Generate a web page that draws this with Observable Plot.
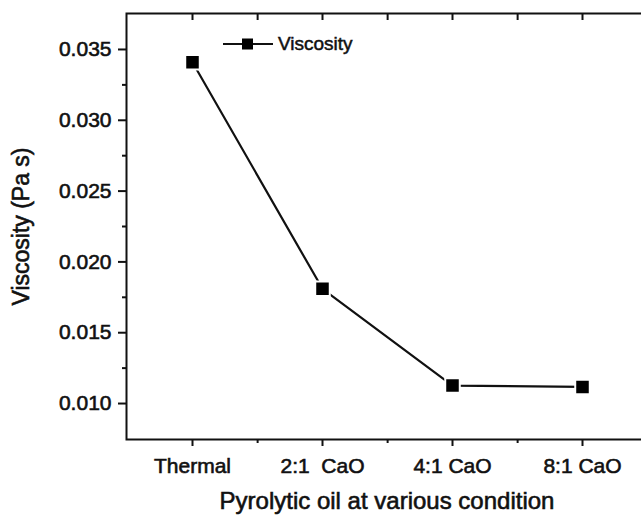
<!DOCTYPE html>
<html><head><meta charset="utf-8">
<script src="https://cdn.jsdelivr.net/npm/d3@7"></script>
<script src="https://cdn.jsdelivr.net/npm/@observablehq/plot@0.6"></script>
<style>
html,body{margin:0;padding:0;background:#fff;overflow:hidden;}
#wrap{position:relative;width:641px;height:515px;overflow:hidden;}
#wrap > svg{max-width:none !important;width:660px !important;height:515px !important;display:block;}
#wrap > svg text{stroke:#111;stroke-width:0.6px;}
#legend{position:absolute;left:222px;top:33px;display:flex;align-items:center;font:19px "Liberation Sans",Arial,sans-serif;color:#111;-webkit-text-stroke:0.5px #111;}
#legend svg{display:block;margin-right:4px;}
g[aria-label="y-axis label"] text{font-size:23px;}
g[aria-label="x-axis label"] text{font-size:24px;}
</style></head><body><div id="wrap"><div id="legend"></div></div>
<script>
const conditions = ["Thermal", "2:1\u00a0 CaO", "4:1 CaO", "8:1 CaO"];
const viscosity = [0.0341, 0.0181, 0.01127, 0.01117];
const yMajorTicks = [0.010, 0.015, 0.020, 0.025, 0.030, 0.035];
const yMinorTicks = [0.0125, 0.0175, 0.0225, 0.0275, 0.0325];
const seriesName = "Viscosity";
const xLabel = "Pyrolytic oil at various condition";
const yLabel = "Viscosity (Pa s)";

const data = conditions.map((c, i) => ({condition: c, value: viscosity[i]}));

const W = 660, ML = 126, MR = 13;
const step = (W - ML - MR) / conditions.length;
const blank = () => "";

const chart = Plot.plot({
  width: W,
  height: 515,
  marginLeft: ML,
  marginRight: MR,
  marginTop: 13,
  marginBottom: 76,
  style: {fontFamily: "'Liberation Sans', Arial, sans-serif", fontSize: "21px", color: "#111", background: "#fff", maxWidth: "none"},
  x: {type: "point", domain: conditions, padding: 0.5},
  y: {domain: [0.00746, 0.03754]},
  marks: [
    Plot.frame({stroke: "#111", strokeWidth: 2}),
    Plot.axisX({anchor: "bottom", ticks: conditions, tickSize: 7, tickPadding: 12, strokeWidth: 2,
      label: xLabel, labelAnchor: "center", labelOffset: 69, labelArrow: "none"}),
    Plot.axisX({anchor: "bottom", ticks: conditions.slice(0, 3), dx: step / 2, tickSize: 4, strokeWidth: 2, tickFormat: blank, label: null}),
    Plot.axisX({anchor: "top", ticks: conditions, tickSize: 6, dy: 6, strokeWidth: 2, tickFormat: blank, label: null}),
    Plot.axisX({anchor: "top", ticks: conditions.slice(0, 3), dx: step / 2, tickSize: 6, dy: 6, strokeWidth: 2, tickFormat: blank, label: null}),
    Plot.axisY({anchor: "left", ticks: yMajorTicks, tickSize: 8, tickPadding: 7, strokeWidth: 2,
      tickFormat: d3.format(".3f"), label: yLabel, labelAnchor: "center", labelOffset: 114, labelArrow: "none"}),
    Plot.axisY({anchor: "left", ticks: yMinorTicks, tickSize: 4, strokeWidth: 2, tickFormat: blank, label: null}),
    Plot.line(data, {x: "condition", y: "value", stroke: "#111", strokeWidth: 2.2}),
    Plot.dot(data, {x: "condition", y: "value", symbol: "square", r: 8.2, fill: "#000", stroke: "#fff", strokeWidth: 2})
  ]
});
document.getElementById("wrap").prepend(chart);

const legend = document.getElementById("legend");
legend.innerHTML = `<svg width="52" height="14"><line x1="1" x2="51" y1="7" y2="7" stroke="#111" stroke-width="2"/><rect x="20" y="1.5" width="11" height="11" fill="#000"/></svg><span>${seriesName}</span>`;
</script>
</body></html>
